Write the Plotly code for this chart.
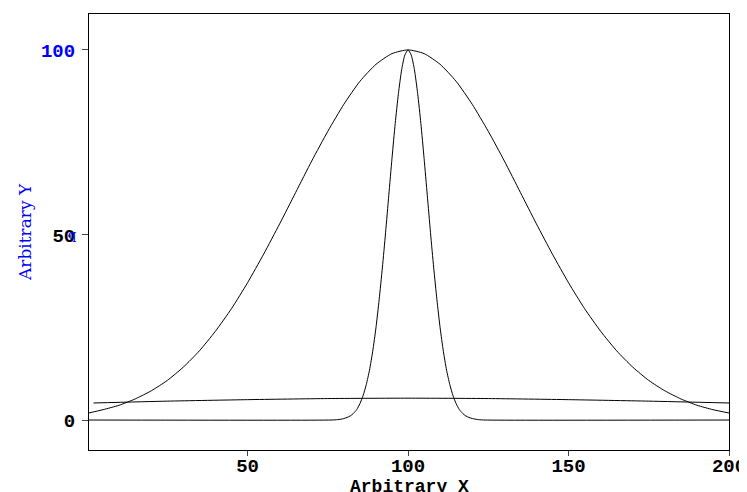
import plotly.graph_objects as go

# Wide peak (read every 5 units)
wide_x = [0, 5, 10, 15, 20, 25, 30, 35, 40, 45, 50, 55, 60, 65, 70, 75, 80, 85, 90, 95,
          100, 105, 110, 115, 120, 125, 130, 135, 140, 145, 150, 155, 160, 165, 170, 175,
          180, 185, 190, 195, 200]
wide_y = [1.8, 2.8, 4.0, 5.7, 7.9, 10.7, 14.3, 18.7, 24.0, 30.1, 37.1, 44.8, 53.0, 61.5,
          70.0, 78.0, 85.3, 91.5, 96.1, 99.0, 100.0, 99.0, 96.1, 91.5, 85.3, 78.0, 70.0,
          61.5, 53.0, 44.8, 37.1, 30.1, 24.0, 18.7, 14.3, 10.7, 7.9, 5.7, 4.0, 2.8, 1.9]

# Narrow peak
narrow_x = [0, 76, 78, 79, 80, 81, 82, 83, 84, 85, 86, 87, 88, 89, 90, 91, 92, 93, 94, 95,
            96, 97, 98, 99, 100, 101, 102, 103, 104, 105, 106, 107, 108, 109, 110, 111, 112,
            113, 114, 115, 116, 117, 118, 119, 120, 122, 124, 200]
narrow_y = [0, 0, 0.1, 0.2, 0.4, 0.7, 1.1, 1.8, 2.8, 4.4, 6.6, 9.6, 13.5, 18.6, 24.9, 32.5,
            41.1, 50.6, 60.7, 70.7, 80.1, 88.2, 94.6, 98.6, 100.0, 98.6, 94.6, 88.2, 80.1,
            70.7, 60.7, 50.6, 41.1, 32.5, 24.9, 18.6, 13.5, 9.6, 6.6, 4.4, 2.8, 1.8, 1.1,
            0.7, 0.4, 0.1, 0, 0]

# Very broad, low curve
flat_x = [2, 25, 50, 75, 100, 125, 150, 175, 200]
flat_y = [4.6, 5.1, 5.5, 5.8, 5.9, 5.8, 5.5, 5.1, 4.6]

y_ticks = [0, 50, 100]
y_tick_text = ["0", "50", "<span style='color:blue'>100</span>"]
x_ticks = [50, 100, 150, 200]

MONO = "Liberation Mono"
SERIF = "DejaVu Serif"

fig = go.Figure()
for xs, ys in [(wide_x, wide_y), (narrow_x, narrow_y), (flat_x, flat_y)]:
    fig.add_trace(go.Scatter(x=xs, y=ys, mode="lines",
                             line=dict(color="black", width=1, shape="spline", smoothing=0.6),
                             showlegend=False, hoverinfo="skip"))

fig.update_layout(
    width=747, height=492,
    margin=dict(l=81, r=26, t=6, b=50),
    plot_bgcolor="white", paper_bgcolor="white",
    font=dict(family=MONO, size=18, color="black"),
)
tickfont = dict(family=MONO, size=19, color="black", weight="bold")
fig.update_xaxes(range=[0.6, 200], tickvals=x_ticks, ticks="outside", ticklen=5,
                 ticklabelstandoff=-7,
                 showline=True, linecolor="black", linewidth=1, mirror=True,
                 showgrid=False, zeroline=False, tickfont=tickfont)
fig.update_yaxes(range=[-8.1, 109.7], tickvals=y_ticks, ticktext=y_tick_text, ticks="outside", ticklen=6,
                 ticklabelstandoff=3,
                 showline=True, linecolor="black", linewidth=1, mirror=True,
                 showgrid=False, zeroline=False, tickfont=tickfont)

fig.add_annotation(text="Arbitrary X", xref="paper", yref="paper", x=0.5, y=0,
                   yanchor="middle", xanchor="center", yshift=-37, showarrow=False,
                   font=dict(family=MONO, size=18, color="black", weight="bold"))
fig.add_annotation(text="Arbitrary Y", xref="paper", yref="paper", x=0, y=0.5,
                   textangle=-90, xanchor="center", yanchor="middle", xshift=-64, showarrow=False,
                   font=dict(family=SERIF, size=17, color="blue"))
fig.add_annotation(text="q", xref="paper", yref="y", x=0, y=50, xshift=-17,
                   xanchor="center", yanchor="middle", showarrow=False,
                   font=dict(family=SERIF, size=13, color="blue"))

fig.write_html("out.html")
